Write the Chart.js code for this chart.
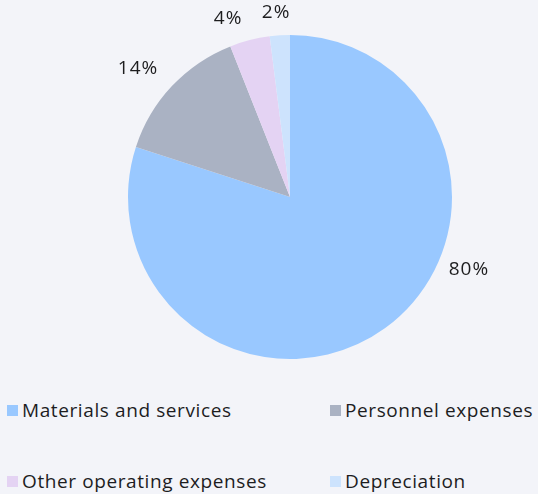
<!DOCTYPE html>
<html>
<head>
<meta charset="utf-8">
<script src="https://cdn.jsdelivr.net/npm/chart.js@4/dist/chart.umd.min.js"></script>
<style>
  html, body { margin: 0; padding: 0; background: #f3f4f9; }
  body { width: 538px; height: 494px; position: relative; overflow: hidden; font-family: "Open Sans", sans-serif; }
  #wrap { position: absolute; left: 0; top: 0; width: 538px; height: 394px; }
  #legend { position: absolute; left: 7px; top: 399px; width: 531px; }
  .item { position: absolute; height: 22px; display: flex; align-items: center; font-size: 19px; letter-spacing: 0.6px; color: #1d1d1f; white-space: nowrap; }
  .box { width: 11px; height: 11px; margin-right: 4px; flex: none; }
</style>
</head>
<body>
<div id="wrap"><canvas id="c"></canvas></div>
<div id="legend"></div>
<script>
const categories = ["Materials and services", "Personnel expenses", "Other operating expenses", "Depreciation"];
const values = [80, 14, 4, 2];
const valueLabels = ["80%", "14%", "4%", "2%"];
const colors = ["#99c8ff", "#aab2c3", "#e4d3f3", "#cde3fd"];

// label placement tweaks (degrees shift from slice middle, px gap from edge)
const labelAngleShift = [-32, -3, -4.7, -0.7];
const labelGap = [31, 37, 27, 23];

const outsideLabels = {
  id: 'outsideLabels',
  afterDatasetsDraw(chart) {
    const ctx = chart.ctx;
    const meta = chart.getDatasetMeta(0);
    ctx.save();
    ctx.font = '19px "Open Sans", sans-serif';
    if ('letterSpacing' in ctx) ctx.letterSpacing = '1px';
    ctx.fillStyle = '#1d1d1f';
    ctx.textAlign = 'center';
    ctx.textBaseline = 'middle';
    meta.data.forEach((arc, i) => {
      const p = arc.getProps(['x', 'y', 'startAngle', 'endAngle', 'outerRadius'], true);
      const mid = (p.startAngle + p.endAngle) / 2 + labelAngleShift[i] * Math.PI / 180;
      const r = p.outerRadius + labelGap[i];
      ctx.fillText(valueLabels[i], p.x + Math.cos(mid) * r, p.y + Math.sin(mid) * r);
    });
    ctx.restore();
  }
};

new Chart(document.getElementById('c'), {
  type: 'pie',
  data: {
    labels: categories,
    datasets: [{ data: values, backgroundColor: colors, borderWidth: 0 }]
  },
  options: {
    responsive: true,
    maintainAspectRatio: false,
    animation: false,
    layout: { padding: { left: 42, right: 0, top: 35, bottom: 35 } },
    plugins: { legend: { display: false }, tooltip: { enabled: false } }
  },
  plugins: [outsideLabels]
});

const legend = document.getElementById('legend');
categories.forEach((name, i) => {
  const el = document.createElement('div');
  el.className = 'item';
  el.style.left = (i % 2 === 0 ? 0 : 323) + 'px';
  el.style.top = (Math.floor(i / 2) * 71) + 'px';
  const b = document.createElement('span');
  b.className = 'box';
  b.style.background = colors[i];
  const t = document.createElement('span');
  t.textContent = name;
  el.appendChild(b); el.appendChild(t);
  legend.appendChild(el);
});
</script>
</body>
</html>
